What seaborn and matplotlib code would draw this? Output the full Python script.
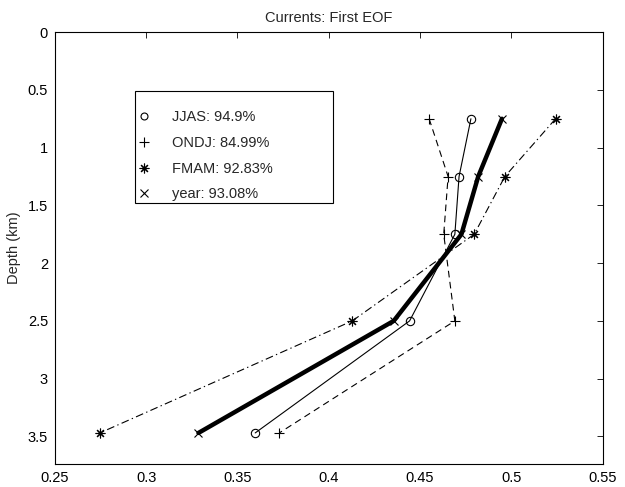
import matplotlib
matplotlib.use("Agg")
import matplotlib.pyplot as plt
from matplotlib.lines import Line2D
from matplotlib.patches import Rectangle
import seaborn as sns
import pandas as pd

depth = [0.75, 1.25, 1.75, 2.5, 3.47]
jjas = [0.4779, 0.4714, 0.4691, 0.4443, 0.3597]
ondj = [0.4550, 0.4654, 0.4630, 0.4691, 0.3729]
fmam = [0.5243, 0.4965, 0.4797, 0.4129, 0.2746]
year = [0.4949, 0.4819, 0.4727, 0.4356, 0.3286]
labels = ["JJAS: 94.9%", "ONDJ: 84.99%", "FMAM: 92.83%", "year: 93.08%"]
xticks = [0.25, 0.3, 0.35, 0.4, 0.45, 0.5, 0.55]
yticks = [0, 0.5, 1, 1.5, 2, 2.5, 3, 3.5]

sns.set_style("white")
plt.rcParams['font.family'] = ['Liberation Sans', 'DejaVu Sans']
FS = 10.5
plt.rcParams['font.size'] = FS

fig = plt.figure(figsize=(6.25, 4.87), dpi=100)
ax = fig.add_axes([0.088, 0.047, 0.876, 0.887])

ast = (8, 2, 0)
styles = [
    dict(values=jjas, ls='-', lw=0.8, marker='o', ms=6),
    dict(values=ondj, ls=(0, (6, 4)), lw=0.8, marker='+', ms=7),
    dict(values=fmam, ls=(0, (7, 3, 1.2, 3)), lw=0.8, marker=ast, ms=7),
    dict(values=year, ls='-', lw=3.2, marker='x', ms=6),
]
for st in styles:
    df = pd.DataFrame({"x": st["values"], "d": depth})
    sns.lineplot(data=df, x="x", y="d", sort=False, ax=ax, color='black',
                 linestyle=st["ls"], linewidth=st["lw"], marker=st["marker"],
                 markersize=st["ms"], markerfacecolor='none', markeredgecolor='black',
                 markeredgewidth=0.8, estimator=None)

ax.set_xlim(0.25, 0.55)
ax.set_ylim(3.74, 0)
ax.set_xticks(xticks)
ax.set_xticklabels([f"{v:g}" for v in xticks])
ax.set_yticks(yticks)
ax.set_yticklabels([f"{v:g}" for v in yticks])
ax.tick_params(direction='in', top=True, right=True, length=4, width=0.6,
               labelsize=FS, colors='black', pad=5)
for s in ax.spines.values():
    s.set_visible(True)
    s.set_color('black')
    s.set_linewidth(0.8)
ax.set_xlabel("")
ax.set_ylabel("Depth (km)", fontsize=FS, labelpad=5)
ax.set_title("Currents: First EOF", fontsize=FS, pad=7)

# legend frame (MATLAB-style wide box)
ax.add_patch(Rectangle((0.146, 0.6046), 0.3616, 0.2594, transform=ax.transAxes,
                       facecolor='white', edgecolor='black', linewidth=0.8, zorder=4))
handles = [Line2D([], [], color='black', ls='none', marker=m, ms=s, mfc='none', mew=0.8)
           for m, s in [('o', 5), ('+', 7), (ast, 7), ('x', 6)]]
leg = ax.legend(handles, labels, loc='upper left', bbox_to_anchor=(0.149, 0.819),
                frameon=False, fontsize=FS,
                handlelength=1.0, handletextpad=1.4, labelspacing=0.8,
                borderpad=0, borderaxespad=0)
leg.set_zorder(5)

fig.savefig("out.png", dpi=100)
